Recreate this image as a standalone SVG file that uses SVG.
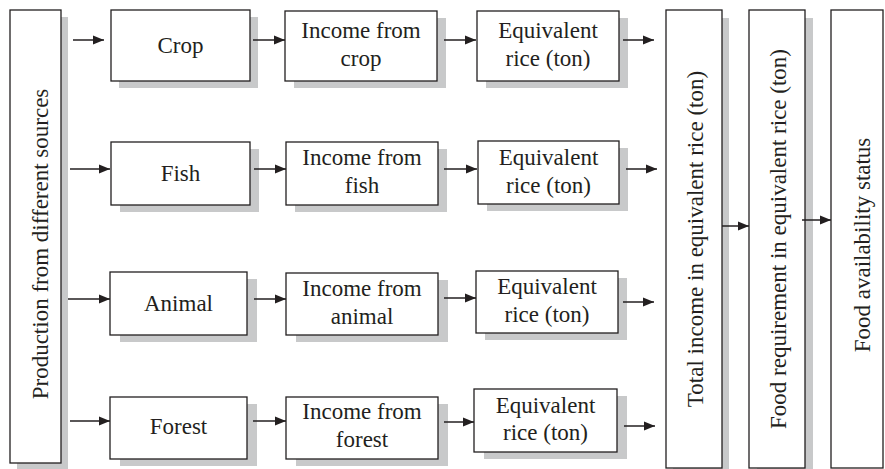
<svg xmlns="http://www.w3.org/2000/svg" width="885" height="469" viewBox="0 0 885 469">
<defs>
<style>
.box{fill:#fff;stroke:#231f20;stroke-width:1.3}
.sh{fill:#c8c9ca;stroke:none}
text{font-family:"Liberation Serif","Times New Roman",serif;font-size:23px;fill:#231f20;text-anchor:middle}
.c{stroke:#231f20;stroke-width:1.5;fill:none;marker-end:url(#ah)}
</style>
<marker id="ah" markerUnits="userSpaceOnUse" markerWidth="12" markerHeight="10" refX="11" refY="5" orient="auto">
<path d="M0,0.5 L11,5 L0,9.5 z" fill="#231f20"/>
</marker>
</defs>
<rect width="885" height="469" fill="#fff"/>

<g id="production">
<rect class="sh" x="17" y="17" width="51" height="453"/>
<rect class="box" x="10" y="10" width="51" height="453"/>
<text transform="translate(48,244) rotate(-90)">Production from different sources</text>
</g>

<g id="crop">
<rect class="sh" x="119" y="17" width="139" height="71"/>
<rect class="box" x="111" y="10" width="139" height="71"/>
<text x="180.5" y="53">Crop</text>
</g>
<g id="income-crop">
<rect class="sh" x="294" y="18" width="152" height="70"/>
<rect class="box" x="285" y="11" width="152" height="70"/>
<text x="361" y="38">Income from</text>
<text x="361" y="66">crop</text>
</g>
<g id="equiv-crop">
<rect class="sh" x="486" y="18" width="142" height="70"/>
<rect class="box" x="477" y="11" width="142" height="70"/>
<text x="548" y="38">Equivalent</text>
<text x="548" y="66">rice (ton)</text>
</g>

<g id="fish">
<rect class="sh" x="120" y="149" width="139" height="63"/>
<rect class="box" x="111" y="142" width="139" height="63"/>
<text x="180.5" y="181">Fish</text>
</g>
<g id="income-fish">
<rect class="sh" x="295" y="149" width="152" height="63"/>
<rect class="box" x="286" y="142" width="152" height="63"/>
<text x="362" y="165">Income from</text>
<text x="362" y="193">fish</text>
</g>
<g id="equiv-fish">
<rect class="sh" x="487" y="148" width="141" height="63"/>
<rect class="box" x="478" y="141" width="141" height="63"/>
<text x="548.5" y="165">Equivalent</text>
<text x="548.5" y="193">rice (ton)</text>
</g>

<g id="animal">
<rect class="sh" x="120" y="279" width="137" height="63"/>
<rect class="box" x="110" y="272" width="137" height="63"/>
<text x="178.5" y="311">Animal</text>
</g>
<g id="income-animal">
<rect class="sh" x="296" y="280" width="152" height="62"/>
<rect class="box" x="286" y="273" width="152" height="62"/>
<text x="362" y="296">Income from</text>
<text x="362" y="324">animal</text>
</g>
<g id="equiv-animal">
<rect class="sh" x="485" y="278" width="142" height="62"/>
<rect class="box" x="476" y="271" width="142" height="62"/>
<text x="547" y="294">Equivalent</text>
<text x="547" y="322">rice (ton)</text>
</g>

<g id="forest">
<rect class="sh" x="120" y="404" width="137" height="62"/>
<rect class="box" x="110" y="397" width="137" height="62"/>
<text x="178.5" y="434">Forest</text>
</g>
<g id="income-forest">
<rect class="sh" x="296" y="404" width="152" height="62"/>
<rect class="box" x="286" y="397" width="152" height="62"/>
<text x="362" y="419">Income from</text>
<text x="362" y="447">forest</text>
</g>
<g id="equiv-forest">
<rect class="sh" x="484" y="396" width="143" height="63"/>
<rect class="box" x="474" y="389" width="143" height="63"/>
<text x="545.5" y="413">Equivalent</text>
<text x="545.5" y="440">rice (ton)</text>
</g>

<g id="total">
<rect class="sh" x="673" y="18" width="56" height="458"/>
<rect class="box" x="666" y="10" width="56" height="458"/>
<text transform="translate(703,239) rotate(-90)">Total income in equivalent rice (ton)</text>
</g>
<g id="requirement">
<rect class="sh" x="757" y="18" width="56" height="458"/>
<rect class="box" x="749" y="10" width="56" height="458"/>
<text transform="translate(786,239) rotate(-90)">Food requirement in equivalent rice (ton)</text>
</g>
<g id="availability">
<rect class="box" x="831" y="10" width="52" height="458"/>
<text transform="translate(870,245) rotate(-90)">Food availability status</text>
</g>

<g id="connectors">
<line class="c" x1="73" y1="40" x2="104" y2="40"/>
<line class="c" x1="253" y1="40" x2="285" y2="40"/>
<line class="c" x1="444" y1="40" x2="476" y2="40"/>
<line class="c" x1="623" y1="40" x2="654" y2="40"/>

<line class="c" x1="70" y1="169" x2="110" y2="169"/>
<line class="c" x1="254" y1="169" x2="286" y2="169"/>
<line class="c" x1="444" y1="169" x2="477" y2="169"/>
<line class="c" x1="626" y1="169" x2="657" y2="169"/>

<line class="c" x1="68" y1="299" x2="110" y2="299"/>
<line class="c" x1="254" y1="299" x2="286" y2="299"/>
<line class="c" x1="444" y1="298" x2="476" y2="298"/>
<line class="c" x1="623" y1="302" x2="654" y2="302"/>

<line class="c" x1="70" y1="421" x2="110" y2="421"/>
<line class="c" x1="253" y1="421" x2="286" y2="421"/>
<line class="c" x1="444" y1="422" x2="474" y2="422"/>
<line class="c" x1="624" y1="426" x2="655" y2="426"/>

<line class="c" x1="722" y1="226" x2="749" y2="226"/>
<line class="c" x1="802" y1="220" x2="831" y2="220"/>
</g>
</svg>
